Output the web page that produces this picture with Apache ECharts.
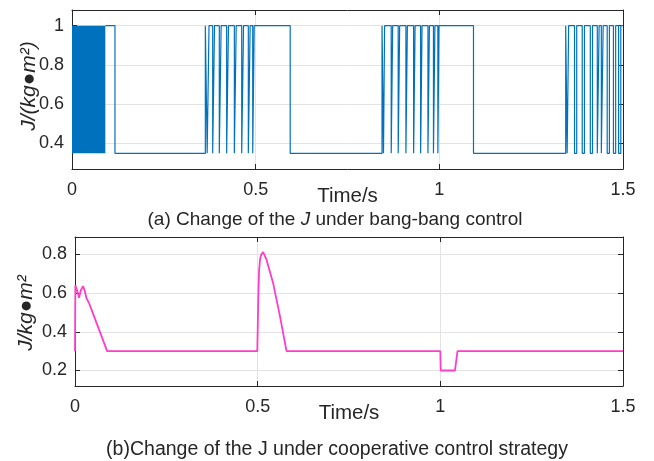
<!DOCTYPE html>
<html>
<head>
<meta charset="utf-8">
<script src="https://cdn.jsdelivr.net/npm/echarts@6/dist/echarts.min.js"></script>
<style>
  html, body { margin: 0; padding: 0; background: #fff; }
  #chart { width: 654px; height: 461px; }
</style>
</head>
<body>
<div id="chart"></div>
<script>
// (a) bang-bang control: J switches between two levels
var jLow = 0.35, jHigh = 1;
var denseBand = [0, 0.0907]; // very fast switching at the start, drawn as a solid block
// switching points [t, J]; each value is held until the next point
var bangSteps = [
  [0.0907, 1], [0.117, 0.35], [0.363, 1],
  [0.368, 0.35], [0.373, 1], [0.383, 0.35], [0.388, 1], [0.401, 0.35], [0.406, 1],
  [0.421, 0.35], [0.426, 1], [0.442, 0.35], [0.447, 1], [0.462, 0.35], [0.467, 1],
  [0.480, 0.35], [0.485, 1], [0.492, 0.35], [0.496, 1],
  [0.594, 0.35], [0.844, 1],
  [0.848, 0.35], [0.851, 1], [0.869, 0.35], [0.873, 1], [0.888, 0.35], [0.892, 1],
  [0.909, 0.35], [0.913, 1], [0.930, 0.35], [0.934, 1], [0.949, 0.35], [0.953, 1],
  [0.969, 0.35], [0.973, 1], [0.984, 0.35], [0.988, 1], [0.996, 0.35], [0.999, 1],
  [1.093, 0.35], [1.344, 1],
  [1.348, 0.35], [1.352, 1], [1.368, 0.35], [1.374, 1], [1.389, 0.35], [1.395, 1],
  [1.411, 0.35], [1.417, 1], [1.430, 0.35], [1.435, 1], [1.441, 0.35], [1.446, 1],
  [1.457, 0.35], [1.463, 1], [1.474, 0.35], [1.480, 1], [1.488, 0.35], [1.494, 1],
  [1.5, 1]
];
var topTicks = [0.4, 0.6, 0.8, 1];

// (b) cooperative control strategy
var coopT = [0, 0.001, 0.004, 0.008, 0.011, 0.016, 0.022, 0.027, 0.031, 0.038, 0.045, 0.088,
  0.499, 0.502, 0.504, 0.507, 0.510, 0.515, 0.519, 0.524, 0.542, 0.561, 0.579,
  1.0, 1.001, 1.04, 1.047, 1.5];
var coopJ = [0.3, 0.64, 0.645, 0.60, 0.576, 0.615, 0.636, 0.61, 0.576, 0.55, 0.516, 0.3,
  0.3, 0.6, 0.722, 0.78, 0.80, 0.812, 0.805, 0.774, 0.654, 0.481, 0.3,
  0.3, 0.2, 0.2, 0.3, 0.3];
var bottomTicks = [0.2, 0.4, 0.6, 0.8];

var font = '"Liberation Sans", Arial, Helvetica, sans-serif';
var ink = '#262626';

var myChart = echarts.init(document.getElementById('chart'));

// x axis: bottom one carries labels, top one only closes the box
function xAx(grid, top) {
  return {
    type: 'value', gridIndex: grid, min: 0, max: 1.5, interval: 0.5,
    position: top ? 'top' : 'bottom',
    axisLine: { show: true, onZero: false, lineStyle: { color: ink, width: 1 } },
    axisTick: { show: true, inside: true, length: 5, lineStyle: { color: ink } },
    splitLine: { show: !top, lineStyle: { color: '#e3e3e3', width: 1 } },
    axisLabel: { show: !top, fontSize: 18, margin: 12, color: ink, fontFamily: font },
    name: top ? '' : 'Time/s', nameLocation: 'middle', nameGap: 17, nameMoveOverlap: false,
    nameTextStyle: { fontSize: 20.5, color: ink, fontFamily: font }
  };
}
function yAx(grid, right, min, max, ticks) {
  return {
    type: 'value', gridIndex: grid, min: min, max: max,
    position: right ? 'right' : 'left',
    axisLine: { show: true, onZero: false, lineStyle: { color: ink, width: 1 } },
    axisTick: { show: true, inside: true, length: 5, customValues: ticks, lineStyle: { color: ink } },
    splitLine: { show: !right, lineStyle: { color: '#e3e3e3', width: 1 } },
    axisLabel: { show: !right, customValues: ticks, fontSize: 18, margin: 8, color: ink, fontFamily: font }
  };
}

var option = {
  animation: false,
  grid: [
    { left: 72, top: 10, width: 551, height: 159 },
    { left: 75, top: 237, width: 548, height: 149 }
  ],
  xAxis: [xAx(0, false), xAx(0, true), xAx(1, false), xAx(1, true)],
  yAxis: [
    yAx(0, false, 0.27, 1.08, topTicks), yAx(0, true, 0.27, 1.08, topTicks),
    yAx(1, false, 0.12, 0.89, bottomTicks), yAx(1, true, 0.12, 0.89, bottomTicks)
  ],
  series: [
    {
      type: 'line', xAxisIndex: 0, yAxisIndex: 0, step: 'end',
      showSymbol: false, data: bangSteps,
      lineStyle: { color: '#0072BD', width: 1.2 },
      markArea: {
        silent: true,
        itemStyle: { color: '#0072BD', opacity: 1 },
        data: [[{ coord: [denseBand[0], jLow] }, { coord: [denseBand[1], jHigh] }]]
      }
    },
    {
      type: 'line', xAxisIndex: 2, yAxisIndex: 2,
      showSymbol: false,
      data: coopT.map(function (t, i) { return [t, coopJ[i]]; }),
      lineStyle: { color: '#FF3DC8', width: 1.8 }
    }
  ],
  graphic: [
    {
      type: 'text', x: 29, y: 86, rotation: Math.PI / 2,
      style: { text: 'J/(kg●m²)', fontSize: 21, fontStyle: 'italic', fontFamily: font, fill: ink, align: 'center', verticalAlign: 'middle' }
    },
    {
      type: 'text', x: 26, y: 313, rotation: Math.PI / 2,
      style: { text: 'J/kg●m²', fontSize: 21, fontStyle: 'italic', fontFamily: font, fill: ink, align: 'center', verticalAlign: 'middle' }
    },
    {
      type: 'text', x: 335, y: 220,
      style: {
        text: '(a) Change of the {i|J} under bang-bang control',
        fontSize: 19, fontFamily: font, fill: ink, align: 'center', verticalAlign: 'middle',
        rich: { i: { fontSize: 19, fontFamily: font, fontStyle: 'italic', fill: ink } }
      }
    },
    {
      type: 'text', x: 337, y: 450,
      style: { text: '(b)Change of the J under cooperative control strategy', fontSize: 19.5, fontFamily: font, fill: ink, align: 'center', verticalAlign: 'middle' }
    }
  ]
};

myChart.setOption(option);
window.addEventListener('resize', myChart.resize);
</script>
</body>
</html>
